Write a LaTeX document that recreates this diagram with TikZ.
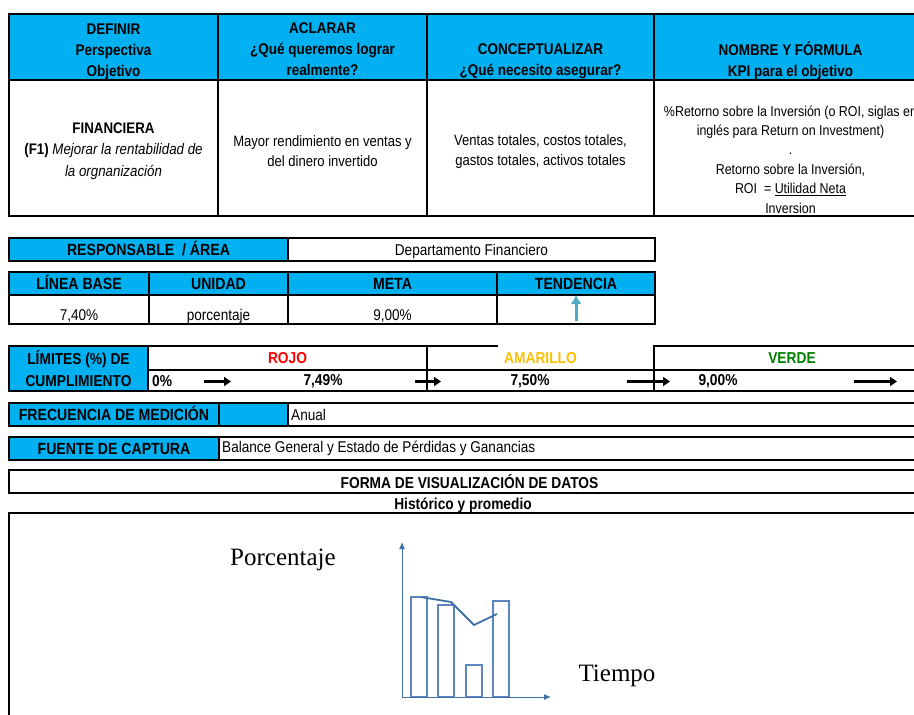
\documentclass[tikz,border=0pt]{standalone}
\usepackage{fontspec}
\setmainfont{Liberation Sans}[FakeStretch=0.87]
\newfontfamily\chartfont{Liberation Serif}
\usetikzlibrary{arrows.meta}
\usetikzlibrary{positioning}
\definecolor{kpiblue}{RGB}{0,176,240}
\definecolor{rojo}{RGB}{255,0,0}
\definecolor{amarillo}{RGB}{255,192,0}
\definecolor{verde}{RGB}{0,128,0}
\definecolor{tendarrow}{RGB}{75,172,198}
\definecolor{chartline}{RGB}{65,113,167}
\definecolor{chartbar}{RGB}{92,132,190}
\tikzset{cell/.style={draw,line width=1.5pt,inner sep=0pt,outer sep=0pt,align=center,fill=white},head/.style={cell,fill=kpiblue},headtext/.style={align=center,inner sep=0pt,font=\bfseries\fontsize{15.5}{21}\selectfont},bodytext/.style={align=center,inner sep=0pt,font=\fontsize{15}{20}\selectfont},lowhead/.style={cell,fill=kpiblue,text height=11.5pt,text depth=0pt,font=\bfseries\fontsize{16.2}{22}\selectfont},lowcell/.style={cell,text height=11pt,text depth=0pt,font=\fontsize{15.6}{20}\selectfont},valcell/.style={lowcell,text height=22pt},lefttext/.style={inner sep=0pt,anchor=west,font=\fontsize{15.6}{20}\selectfont},textonly/.style={inner sep=0pt,font=\bfseries\fontsize{15.8}{20}\selectfont},limarrow/.style={-{Triangle[length=7pt,width=9pt]},line width=2.4pt},axis/.style={chartline,line width=1pt,-{Latex[length=7pt,width=6pt]}},bar/.style={chartbar,line width=1.2pt}}

\begin{document}
\begin{tikzpicture}[x=1pt,y=-1pt,font=\fontsize{15}{20}\selectfont]
\useasboundingbox (0,0) rectangle (914,715);
\clip (0,0) rectangle (914,715);

\node (hdDef) at (113.5,47)[head,minimum width=209,minimum height=66]{};
\node (hdAcl) at (322.5,47)[head,minimum width=209,minimum height=66]{};
\node (hdCon) at (540.5,47)[head,minimum width=227,minimum height=66]{};
\node (hdKpi) at (790.5,47)[head,minimum width=273,minimum height=66]{};
\node (hdDefT) at (113.5,51.5)[headtext]{DEFINIR\\Perspectiva\\Objetivo};
\node (hdAclT) at (322.5,49.5)[headtext]{ACLARAR\\¿Qué queremos lograr\\realmente?};
\node (hdConT) at (540.5,61.5)[headtext]{CONCEPTUALIZAR\\¿Qué necesito asegurar?};
\node (hdKpiT) at (790.5,61)[headtext]{NOMBRE Y FÓRMULA\\KPI para el objetivo};

\node (bdDef) at (113.5,148)[cell,minimum width=209,minimum height=136]{};
\node (bdAcl) at (322.5,148)[cell,minimum width=209,minimum height=136]{};
\node (bdCon) at (540.5,148)[cell,minimum width=227,minimum height=136]{};
\node (bdKpi) at (790.5,148)[cell,minimum width=273,minimum height=136]{};
\node (bdDefT) at (113.5,151)[bodytext,font=\fontsize{15.3}{21.5}\selectfont]{\textbf{FINANCIERA}\\\textbf{(F1)} \textit{Mejorar la rentabilidad de}\\\textit{la orgnanización}};
\node (bdAclT) at (322.5,151)[bodytext]{Mayor rendimiento en ventas y\\del dinero invertido};
\node (bdConT) at (540.5,152)[bodytext]{Ventas totales, costos totales,\\gastos totales, activos totales};
\node (bdKpiT) at (790.5,159.5)[bodytext,font=\fontsize{14.3}{19.4}\selectfont]{\%Retorno sobre la Inversión (o ROI, siglas en\\inglés para Return on Investment)\\.\\Retorno sobre la Inversión,\\ROI~~= \underline{Utilidad Neta}\\Inversion};

\node (resLbl) at (148.5,249.5)[lowhead,minimum width=279,minimum height=23]{RESPONSABLE~~/ ÁREA};
\node (resVal) at (471.5,249.5)[lowcell,minimum width=367,minimum height=23]{Departamento Financiero};

\node (lbHd) at (79,283.5)[lowhead,minimum width=140,minimum height=23]{LÍNEA BASE};
\node (unHd) at (218.5,283.5)[lowhead,minimum width=139,minimum height=23]{UNIDAD};
\node (mtHd) at (392.5,283.5)[lowhead,minimum width=209,minimum height=23]{META};
\node (tdHd) at (576,283.5)[lowhead,minimum width=158,minimum height=23]{TENDENCIA};
\node (lbVal) at (79,309.5)[valcell,minimum width=140,minimum height=29]{7,40\%};
\node (unVal) at (218.5,309.5)[valcell,minimum width=139,minimum height=29]{porcentaje};
\node (mtVal) at (392.5,309.5)[valcell,minimum width=209,minimum height=29]{9,00\%};
\node (tdVal) at (576,309.5)[valcell,minimum width=158,minimum height=29]{};
\draw[tendarrow,line width=3pt,-{Latex[length=9pt,width=11pt]}] ([yshift=3pt]tdVal.south) -- (tdVal.north);

\node (limLbl) at (78.5,368.5)[cell,fill=kpiblue,minimum width=139,minimum height=45,font=\bfseries\fontsize{15.8}{22}\selectfont]{LÍMITES (\%) DE\\CUMPLIMIENTO};
\node (limRojo) at (287.5,358)[cell,minimum width=279,minimum height=24,text=rojo,font=\bfseries\fontsize{15.8}{20}\selectfont]{ROJO};
\node (limAmar) at (540.5,358)[textonly,text=amarillo]{AMARILLO};
\node (limVerde) at (792,358)[cell,minimum width=276,minimum height=24,text=verde,font=\bfseries\fontsize{15.8}{20}\selectfont]{VERDE};
\draw[line width=1.5pt] (limRojo.north east) -- ++(71,0);
\node (valRojo) at (287.5,380.5)[cell,minimum width=279,minimum height=21]{};
\node (valAmar) at (540.5,380.5)[cell,minimum width=227,minimum height=21]{};
\node (valVerde) at (792,380.5)[cell,minimum width=276,minimum height=21]{};
\node (pct0) at (152,381)[textonly,anchor=west]{0\%};
\node (pct749) at (323,381)[textonly]{7,49\%};
\node (pct750) at (530,381)[textonly]{7,50\%};
\node (pct900) at (718,381)[textonly]{9,00\%};
\coordinate (ar1s) at (204,381.5);
\coordinate (ar1e) at (231,381.5);
\coordinate (ar2s) at (415,381.5);
\coordinate (ar2e) at (441,381.5);
\coordinate (ar3s) at (627,381.5);
\coordinate (ar3e) at (670,381.5);
\coordinate (ar4s) at (854,381.5);
\coordinate (ar4e) at (897,381.5);
\foreach \a in {1,...,4}
  \draw[limarrow] (ar\a s) -- (ar\a e);

\node (frqLbl) at (114,414.5)[lowhead,minimum width=210,minimum height=23]{FRECUENCIA DE MEDICIÓN};
\node (frqBlank) at (253.5,414.5)[lowhead,minimum width=69,minimum height=23]{};
\node (frqVal) at (609,414.5)[cell,minimum width=642,minimum height=23]{};
\node (frqTxt) at (291,414.5)[lefttext]{Anual};

\node (fteLbl) at (114,448.5)[lowhead,minimum width=210,minimum height=23]{FUENTE DE CAPTURA};
\node (fteVal) at (574.5,448.5)[cell,minimum width=711,minimum height=23]{};
\node (fteTxt) at (222,448.5)[lefttext]{Balance General y Estado de Pérdidas y Ganancias};

\node (forma) at (469.5,481.5)[cell,minimum width=921,minimum height=23,font=\bfseries\fontsize{15.8}{20}\selectfont]{FORMA DE VISUALIZACIÓN DE DATOS};
\node (histo) at (463,505.5)[textonly]{Histórico y promedio};
\node (chartBox) at (469.5,636.5)[cell,minimum width=921,minimum height=247]{};

\coordinate (orig) at (402,697);
\coordinate (ytip) at (402,542);
\coordinate (xtip) at (551,697);
\foreach \bx/\by in {411/597,438/605,466/665,493/601}
  \draw[bar] (\bx,697) rectangle (\bx+16,\by);
\draw[axis] (orig) -- (ytip);
\draw[axis] (orig) -- (xtip);
\draw[chartline,line width=1.8pt] (421,597) -- (451,602) -- (474,625) -- (497,614);
\node (ejeY) at (283,560)[font=\chartfont\fontsize{25}{25}\selectfont]{Porcentaje};
\node (ejeX) at (617,676)[font=\chartfont\fontsize{25}{25}\selectfont]{Tiempo};

\end{tikzpicture}
\end{document}
